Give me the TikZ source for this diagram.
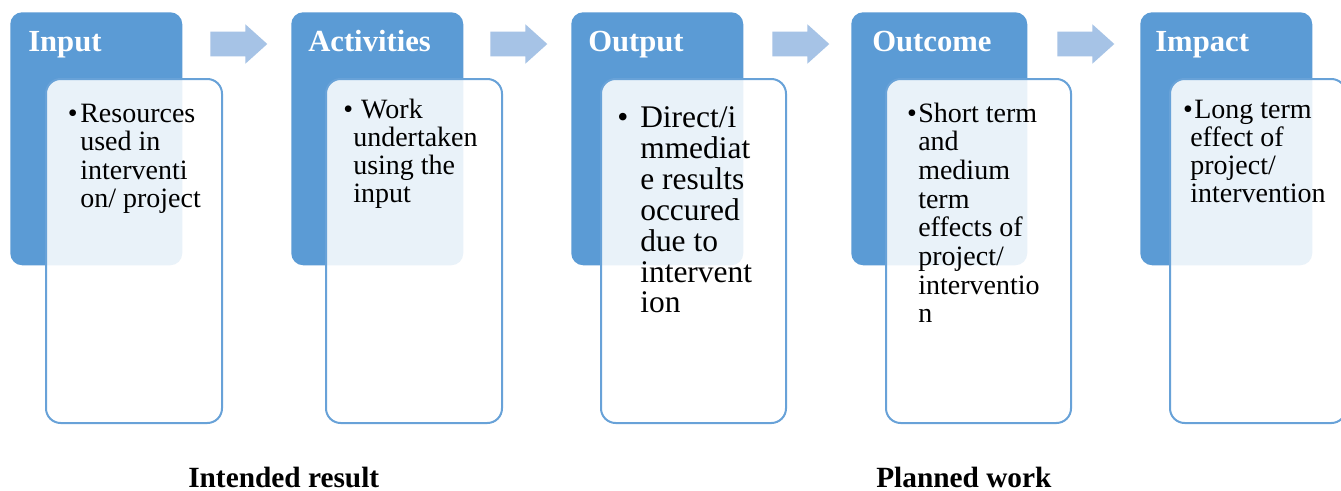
\documentclass[tikz,border=0pt]{standalone}
\usepackage{fontspec}
\setmainfont{Liberation Serif}
\usetikzlibrary{shapes.arrows}

\definecolor{hdrblue}{RGB}{91,155,213}
\definecolor{lineblue}{RGB}{104,162,216}
\definecolor{flowblue}{RGB}{166,195,230}

% hanging bullet in front of the first line
\newcommand{\bul}[1]{\llap{\textbullet\hspace{#1}}}
% lines of a card, baseline on the first line
\newcommand{\cardlines}[1]{\begin{tabular}[t]{@{}l@{}}#1\end{tabular}}

\begin{document}
\begin{tikzpicture}[x=0.75pt, y=0.75pt]

	\tikzstyle{head}=[rectangle, rounded corners=9pt, fill=hdrblue, minimum width=129pt, minimum height=189.75pt, inner sep=0pt, anchor=north west]
	\tikzstyle{title}=[anchor=base west, inner sep=0pt, text=white, font=\fontsize{23}{25}\selectfont\bfseries]
	\tikzstyle{card}=[rectangle, rounded corners=11pt, fill=white, fill opacity=0.87, draw=lineblue, line width=1.5pt, minimum width=132pt, minimum height=258pt, inner sep=0pt, anchor=north west]
	\tikzstyle{items}=[anchor=base west, inner sep=0pt, font=\fontsize{21}{21.4}\selectfont]
	\tikzstyle{flow}=[single arrow, fill=flowblue, inner xsep=0pt, inner ysep=9pt, minimum height=42.75pt, single arrow head extend=5.6pt, single arrow tip angle=84, anchor=tail]
	\tikzstyle{caption}=[anchor=base west, inner sep=0pt, font=\fontsize{22}{24}\selectfont\bfseries]

	\useasboundingbox[fill=white] (0,0) rectangle (1341,-490);

	% coloured headers
	\node[head] (h1) at (10,-12)   {};
	\node[head] (h2) at (291,-12)  {};
	\node[head] (h3) at (571,-12)  {};
	\node[head, minimum width=132pt] (h4) at (851,-12)  {};
	\node[head] (h5) at (1140,-12) {};

	\node[title] (t1) at (28,-51)   {Input};
	\node[title] (t2) at (308,-51)  {Activities};
	\node[title] (t3) at (588,-51)  {Output};
	\node[title] (t4) at (872,-51)  {Outcome};
	\node[title] (t5) at (1155,-51) {Impact};

	% white cards over the headers
	\node[card] (c1) at (45,-78)   {};
	\node[card] (c2) at (325,-78)  {};
	\node[card, minimum width=138.75pt] (c3) at (600,-78)  {};
	\node[card, minimum width=138.75pt] (c4) at (885,-78)  {};
	\node[card] (c5) at (1169,-78) {};

	% card texts
	\node[items] (i1) at (80,-122) {\cardlines{\bul{2pt}Resources\\used in\\interventi\\on/ project}};
	\node[items, font=\fontsize{21}{21}\selectfont] (i2) at (353,-118) {\cardlines{\bul{0pt}\hspace{6pt}Work\\undertaken\\using the\\input}};
	\node[items, font=\fontsize{23.6}{23.1}\selectfont] (i3) at (640,-127) {\cardlines{\bul{9pt}Direct/i\\mmediat\\e results\\occured\\due to\\intervent\\ion}};
	\node[items, font=\fontsize{21}{21.5}\selectfont] (i4) at (918,-122) {\cardlines{\bul{1pt}Short term\\and\\medium\\term\\effects of\\project/\\interventio\\n}};
	\node[items, font=\fontsize{21}{21}\selectfont] (i5) at (1190,-118) {\cardlines{\bul{-2pt}\hspace{3pt}Long term\\effect of\\project/\\intervention}};

	% block arrows between the headers
	\node[flow] (f1) at (210,-44)  {};
	\node[flow] (f2) at (490,-44)  {};
	\node[flow] (f3) at (772,-44)  {};
	\node[flow] (f4) at (1057,-44) {};

	\node[caption] (r1) at (188,-487) {Intended result};
	\node[caption] (r2) at (876,-487) {Planned work};

\end{tikzpicture}
\end{document}
